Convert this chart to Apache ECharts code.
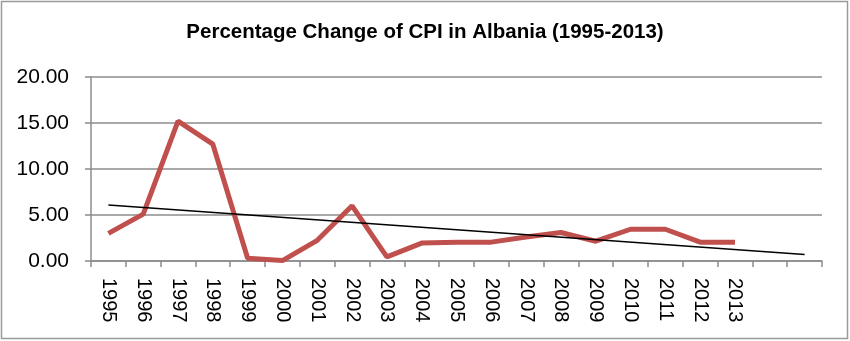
<!DOCTYPE html>
<html><head><meta charset="utf-8">
<script src="https://cdn.jsdelivr.net/npm/echarts@6/dist/echarts.min.js"></script>
<style>html,body{margin:0;padding:0;background:#fff}#c{width:850px;height:341px}</style>
</head><body><div id="c"></div>
<script>
const categories = ['1995','1996','1997','1998','1999','2000','2001','2002','2003','2004','2005','2006','2007','2008','2009','2010','2011','2012','2013','',' '];
const cpiChange = [3.0,5.1,15.2,12.7,0.3,0.05,2.25,6.0,0.45,1.95,2.05,2.05,2.6,3.1,2.15,3.45,3.45,2.05,2.05,null,null];
const trendLine = [6.1,null,null,null,null,null,null,null,null,null,null,null,null,null,null,null,null,null,null,null,0.7];
const yTicks = [0,5,10,15,20];

const chart = echarts.init(document.getElementById('c'), null, {renderer:'canvas'});
chart.setOption({
  animation:false,
  backgroundColor:'#fff',
  title:{text:'Percentage Change of CPI in Albania (1995-2013)',left:'center',top:17,
    textStyle:{fontFamily:'Liberation Sans',fontSize:20.5,fontWeight:'bold',color:'#000'}},
  graphic:[{type:'rect',shape:{x:1.5,y:1.5,width:846,height:337},style:{fill:'none',stroke:'#9a9a9a',lineWidth:1.5}}],
  grid:{left:91,right:28,top:77,bottom:80},
  xAxis:{type:'category',data:categories,boundaryGap:true,
    axisLine:{lineStyle:{color:'#8c8c8c',width:1.5}},
    axisTick:{show:true,length:6,lineStyle:{color:'#8c8c8c',width:1.5}},
    axisLabel:{rotate:-90,margin:17,fontFamily:'Liberation Sans',fontSize:20,color:'#000',interval:0}},
  yAxis:{type:'value',min:yTicks[0],max:yTicks[yTicks.length-1],interval:5,
    axisLine:{show:true,lineStyle:{color:'#8c8c8c',width:1.5}},
    axisTick:{show:true,length:6,lineStyle:{color:'#8c8c8c',width:1.5}},
    splitLine:{lineStyle:{color:'#8c8c8c',width:1.5}},
    axisLabel:{margin:22,fontFamily:'Liberation Sans',fontSize:21,color:'#000',formatter:v=>v.toFixed(2)}},
  series:[
    {type:'line',data:cpiChange,symbol:'none',lineStyle:{color:'#c0504d',width:5},z:2},
    {type:'line',data:trendLine,connectNulls:true,symbol:'none',lineStyle:{color:'#000',width:1.5},z:3}
  ]
});
</script></body></html>
